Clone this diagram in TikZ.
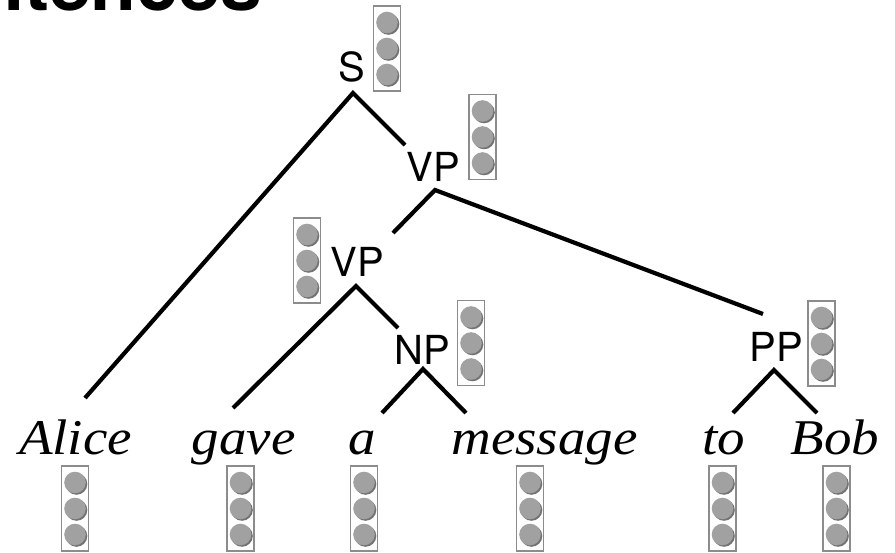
\documentclass[tikz,border=0pt]{standalone}
\usepackage{fontspec}
\setsansfont{TeX Gyre Heros}
\newfontfamily\wordfont[FakeStretch=1.1]{Liberation Serif}
\begin{document}
\begin{tikzpicture}[x=1pt,y=-1pt,
  edge/.style={line width=4.2pt,line cap=butt},
  cat/.style={font=\sffamily\fontsize{40}{40}\selectfont,inner sep=0pt,anchor=base},
  word/.style={font=\wordfont\itshape\fontsize{50}{50}\selectfont,inner sep=0pt,anchor=base},
  vecbox/.style={draw=black!45,line width=1.9pt,minimum width=27pt,minimum height=85pt,inner sep=0pt,
    path picture={
      \foreach \d in {-26,0,26}{
        \fill[black!55] ([shift={(1.5,\d+1.5)}]path picture bounding box.center) circle (10.8);
        \fill[black!37] ([shift={(0,\d)}]path picture bounding box.center) circle (10.8);
      }}},
]
\useasboundingbox (0,0) rectangle (895,553);
\fill[white] (0,0) rectangle (895,553);
\clip (0,0) rectangle (895,553);

% cropped title
\node[font=\sffamily\bfseries\fontsize{75}{75}\selectfont,inner sep=0pt,anchor=base east] (title) at (262,11) {Sentences};

% category labels
\node[cat] (S) at (351.5,82) {S};
\node[cat] (VPa) at (433,182) {VP};
\node[cat] (VPb) at (357,277) {VP};
\node[cat] (NP) at (422.5,365) {NP};
\node[cat] (PP) at (776,362) {PP};

% words
\node[word] (alice) at (75.5,455) {Alice};
\node[word] (gave) at (243.5,455) {gave};
\node[word] (a) at (362.5,455) {a};
\node[word] (message) at (544.5,455) {message};
\node[word] (to) at (724,455) {to};
\node[word] (bob) at (835,455) {Bob};

% vectors
\node[vecbox] (vS) at (387,48.5) {};
\node[vecbox] (vVPa) at (482.5,137) {};
\node[vecbox] (vVPb) at (307,260.5) {};
\node[vecbox] (vNP) at (471,343) {};
\node[vecbox] (vPP) at (821.5,343.5) {};
\node[vecbox] (valice) at (75,508.5) {};
\node[vecbox] (vgave) at (240.5,508.5) {};
\node[vecbox] (va) at (364,508.5) {};
\node[vecbox] (vmessage) at (530,508.5) {};
\node[vecbox] (vto) at (722.5,508.5) {};
\node[vecbox] (vbob) at (836.5,508.5) {};

% tree connectors
\coordinate (S-ap) at (353,93);
\coordinate (S-l) at (85,398);
\coordinate (S-r) at (405,145);
\coordinate (VPa-ap) at (435,190);
\coordinate (VPa-l) at (393,233);
\coordinate (VPa-r) at (763,314);
\coordinate (VPb-ap) at (356,286);
\coordinate (VPb-l) at (233,408);
\coordinate (VPb-r) at (398,328);
\coordinate (NP-ap) at (423,369);
\coordinate (NP-l) at (382,413);
\coordinate (NP-r) at (466,413);
\coordinate (PP-ap) at (774,370);
\coordinate (PP-l) at (733,413);
\coordinate (PP-r) at (817,413);

\draw[edge] (S-l) -- (S-ap) -- (S-r);
\draw[edge] (VPa-l) -- (VPa-ap) -- (VPa-r);
\draw[edge] (VPb-l) -- (VPb-ap) -- (VPb-r);
\draw[edge] (NP-l) -- (NP-ap) -- (NP-r);
\draw[edge] (PP-l) -- (PP-ap) -- (PP-r);
\end{tikzpicture}
\end{document}
